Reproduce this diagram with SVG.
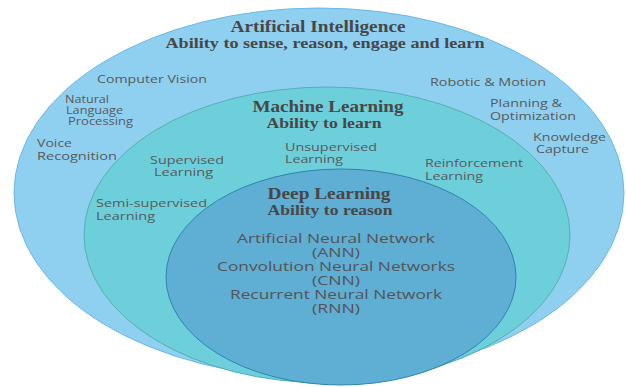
<svg xmlns="http://www.w3.org/2000/svg" width="626" height="387" viewBox="0 0 626 387">
<style>
.t{font-family:"Liberation Serif","DejaVu Serif",serif;font-weight:bold;fill:#474747;text-anchor:middle}
.s{font-family:"Open Sans","DejaVu Sans",sans-serif;fill:#595959;font-size:10.5px}
.c{font-family:"Open Sans","DejaVu Sans",sans-serif;fill:#545454;font-size:12.5px;text-anchor:middle}
</style>
<rect width="626" height="387" fill="#ffffff"/>
<g id="ai">
<ellipse cx="319" cy="193" rx="305" ry="185" fill="#8fd0f1" stroke="#6bb8e6" stroke-width="1"/>
<text class="t" x="318" y="32" font-size="17" textLength="175" lengthAdjust="spacingAndGlyphs">Artificial Intelligence</text>
<text class="t" x="325" y="48" font-size="14.5" textLength="319" lengthAdjust="spacingAndGlyphs">Ability to sense, reason, engage and learn</text>
<text class="s" x="97" y="83" textLength="110" lengthAdjust="spacingAndGlyphs">Computer Vision</text>
<text class="s" x="65" y="103" textLength="44" lengthAdjust="spacingAndGlyphs">Natural</text>
<text class="s" x="66" y="114" textLength="57" lengthAdjust="spacingAndGlyphs">Language</text>
<text class="s" x="68" y="125" textLength="65" lengthAdjust="spacingAndGlyphs">Processing</text>
<text class="s" x="37" y="147" textLength="35" lengthAdjust="spacingAndGlyphs">Voice</text>
<text class="s" x="37" y="160" textLength="80" lengthAdjust="spacingAndGlyphs">Recognition</text>
<text class="s" x="430" y="86" textLength="116" lengthAdjust="spacingAndGlyphs">Robotic &amp; Motion</text>
<text class="s" x="490" y="107" textLength="72" lengthAdjust="spacingAndGlyphs">Planning &amp;</text>
<text class="s" x="490" y="120" textLength="86" lengthAdjust="spacingAndGlyphs">Optimization</text>
<text class="s" x="533" y="141" textLength="73" lengthAdjust="spacingAndGlyphs">Knowledge</text>
<text class="s" x="536" y="153" textLength="53" lengthAdjust="spacingAndGlyphs">Capture</text>
</g>
<g id="ml">
<ellipse cx="327" cy="235" rx="243" ry="148" fill="#6dcfd9" stroke="#57aeb5" stroke-width="1"/>
<text class="t" x="328" y="112" font-size="16" textLength="151" lengthAdjust="spacingAndGlyphs">Machine Learning</text>
<text class="t" x="324" y="128" font-size="14" textLength="115" lengthAdjust="spacingAndGlyphs">Ability to learn</text>
<text class="s" x="150" y="164" textLength="74" lengthAdjust="spacingAndGlyphs">Supervised</text>
<text class="s" x="154" y="176" textLength="59" lengthAdjust="spacingAndGlyphs">Learning</text>
<text class="s" x="285" y="151" textLength="92" lengthAdjust="spacingAndGlyphs">Unsupervised</text>
<text class="s" x="285" y="163" textLength="58" lengthAdjust="spacingAndGlyphs">Learning</text>
<text class="s" x="425" y="167" textLength="98" lengthAdjust="spacingAndGlyphs">Reinforcement</text>
<text class="s" x="425" y="180" textLength="58" lengthAdjust="spacingAndGlyphs">Learning</text>
<text class="s" x="96" y="207" textLength="111" lengthAdjust="spacingAndGlyphs">Semi-supervised</text>
<text class="s" x="96" y="220" textLength="59" lengthAdjust="spacingAndGlyphs">Learning</text>
</g>
<g id="dl">
<ellipse cx="341" cy="277" rx="175" ry="108" fill="#5faed4" stroke="#2f83b0" stroke-width="1"/>
<text class="t" x="329" y="199" font-size="16" textLength="123" lengthAdjust="spacingAndGlyphs">Deep Learning</text>
<text class="t" x="330" y="215" font-size="14" textLength="125" lengthAdjust="spacingAndGlyphs">Ability to reason</text>
<text class="c" x="336" y="243" textLength="198" lengthAdjust="spacingAndGlyphs">Artificial Neural Network</text>
<text class="c" x="336" y="257" textLength="48" lengthAdjust="spacingAndGlyphs">(ANN)</text>
<text class="c" x="336" y="271" textLength="238" lengthAdjust="spacingAndGlyphs">Convolution Neural Networks</text>
<text class="c" x="336" y="285" textLength="48" lengthAdjust="spacingAndGlyphs">(CNN)</text>
<text class="c" x="336" y="299" textLength="212" lengthAdjust="spacingAndGlyphs">Recurrent Neural Network</text>
<text class="c" x="336" y="313" textLength="48" lengthAdjust="spacingAndGlyphs">(RNN)</text>
</g>
</svg>
